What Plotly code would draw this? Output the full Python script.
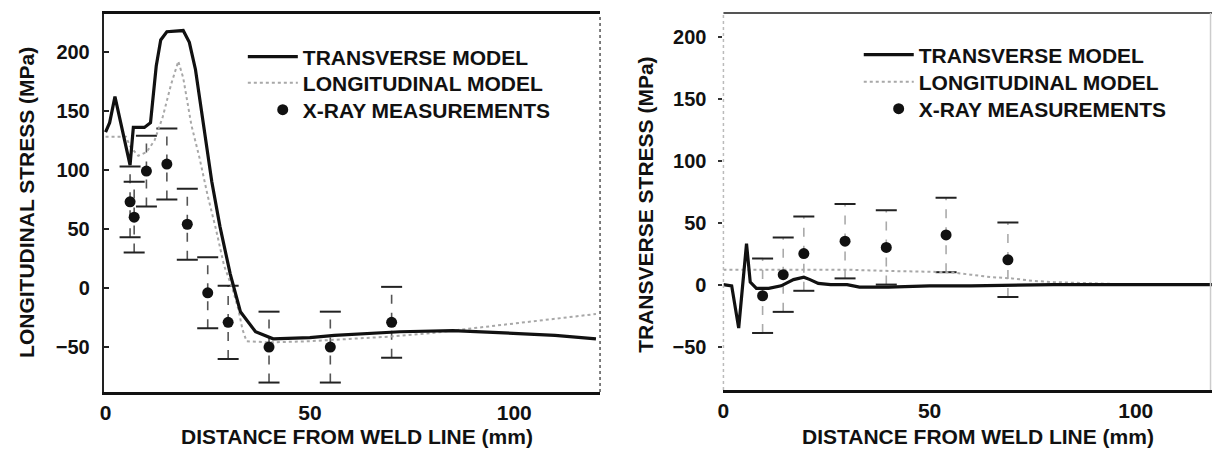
import plotly.graph_objects as go

# ---------------- data: left panel (longitudinal stress) ----------------
lt_x = [0, 1, 2.3, 4, 6.0, 6.8, 9.5, 11, 12.4, 13.5, 15, 19, 20.5, 22, 23, 24.5, 26, 28, 30.5, 33, 36.7, 41, 50, 56, 65, 72, 85, 100, 110, 120]
lt_y = [132, 140, 162, 135, 104, 136, 136, 140, 188, 210, 217, 218, 208, 185, 160, 125, 90, 52, 12, -20, -37, -43, -42, -40, -38, -37, -36, -38, -40, -43]

lg_x = [0, 5, 6, 8, 10, 12, 14, 16, 17.8, 19, 21, 23, 25, 27, 29, 31, 32.5, 33.5, 34.5, 40, 50, 60, 70, 80, 90, 100, 110, 120]
lg_y = [128, 128, 120, 112, 115, 125, 145, 172, 192, 178, 138, 110, 78, 50, 19, 0, -18, -35, -45, -46, -45, -43, -41, -38, -34, -30, -26, -22]

lx_x = [6, 7, 10, 15, 20, 25, 30, 40, 55, 70]
lx_y = [73, 60, 99, 105, 54, -4, -29, -50, -50, -29]
lx_err = [30, 30, 30, 30, 30, 30, 31, 30, 30, 30]

# ---------------- data: right panel (transverse stress) ----------------
rt_x = [0, 2, 3.7, 4.6, 5.6, 6.5, 8, 11, 14, 17, 19.5, 21, 23, 26, 30, 33, 40, 50, 60, 80, 100, 120]
rt_y = [0, -1, -35, 0, 33, 2, -3, -3, -1, 4, 6, 4, 1, 0, 0, -2, -2, -1, -1, 0, 0, 0]

rl_x = [0, 10, 20, 30, 40, 50, 55, 60, 65, 70, 75, 80, 85, 90, 95, 100, 110, 120]
rl_y = [12, 12, 12, 12, 11, 10, 10, 8, 6, 5, 3, 2, 1.5, 1, 0.5, 0, 0, 0]

rx_x = [9.5, 14.5, 19.5, 29.5, 39.5, 54, 69]
rx_y = [-9, 8, 25, 35, 30, 40, 20]
rx_err = [30, 30, 30, 30, 30, 30, 30]

y_ticks = [-50, 0, 50, 100, 150, 200]
x_ticks = [0, 50, 100]

FONT = "Liberation Sans"
W, H = 1212, 450


def err_segments(xs, ys, es):
    sx, sy = [], []
    for x, y, e in zip(xs, ys, es):
        sx += [x, x, None]
        sy += [y - e, y + e, None]
    return sx, sy


def err_caps(xs, ys, es):
    cx, cy = [], []
    for x, y, e in zip(xs, ys, es):
        cx += [x, x]
        cy += [y - e, y + e]
    return cx, cy


fig = go.Figure()


def add_panel(xa, ya, legs, t_x, t_y, l_x, l_y, m_x, m_y, m_e, vcol):
    sx, sy = err_segments(m_x, m_y, m_e)
    fig.add_trace(go.Scatter(x=sx, y=sy, mode="lines", xaxis=xa, yaxis=ya,
                             line=dict(color=vcol, width=1.6, dash="dash"),
                             showlegend=False, hoverinfo="skip"))
    cx, cy = err_caps(m_x, m_y, m_e)
    fig.add_trace(go.Scatter(x=cx, y=cy, mode="markers", xaxis=xa, yaxis=ya,
                             marker=dict(symbol="line-ew-open", size=15, color="#222",
                                         line=dict(color="#222", width=2)),
                             showlegend=False, hoverinfo="skip"))
    fig.add_trace(go.Scatter(x=l_x, y=l_y, mode="lines", xaxis=xa, yaxis=ya,
                             name="LONGITUDINAL MODEL", legend=legs[1],
                             line=dict(color="#a8a8a8", width=2, dash="dot")))
    fig.add_trace(go.Scatter(x=t_x, y=t_y, mode="lines", xaxis=xa, yaxis=ya,
                             name="TRANSVERSE MODEL", legend=legs[0],
                             line=dict(color="#111", width=3.2)))
    fig.add_trace(go.Scatter(x=m_x, y=m_y, mode="markers", xaxis=xa, yaxis=ya,
                             name="X-RAY MEASUREMENTS", legend=legs[2],
                             marker=dict(color="#111", size=11)))


add_panel("x", "y", ["legend", "legend2", "legend3"],
          lt_x, lt_y, lg_x, lg_y, lx_x, lx_y, lx_err, "#555")
add_panel("x2", "y2", ["legend4", "legend5", "legend6"],
          rt_x, rt_y, rl_x, rl_y, rx_x, rx_y, rx_err, "#aaa")

# pixel layout
L_X0, L_X1, L_Y0, L_Y1 = 98, 597, 14, 392
R_X0, R_X1, R_Y0, R_Y1 = 721, 1212, 13, 390

tickfont_y = dict(family=FONT, size=20, color="#111", weight="bold")
tickfont_x = dict(family=FONT, size=21, color="#111", weight="bold")
title_font = dict(family=FONT, size=21, color="#111", weight="bold")
legend_font = dict(family=FONT, size=21, color="#111", weight="bold")


def leg(text_x, row_y, itemwidth=50):
    off = 67 if itemwidth == 50 else 47
    return dict(x=(text_x - off) / W, y=1 - row_y / H, xanchor="left", yanchor="middle",
                bgcolor="rgba(0,0,0,0)", itemwidth=itemwidth, font=legend_font)


fig.update_layout(
    width=W, height=H, margin=dict(l=0, r=0, t=0, b=0),
    paper_bgcolor="white", plot_bgcolor="white",
    xaxis=dict(domain=[L_X0 / W, L_X1 / W], range=[-0.5, 121], tickvals=x_ticks,
               showgrid=False, zeroline=False, showline=True, linecolor="#111",
               linewidth=2.5, mirror=True, ticks="", tickfont=tickfont_x,
               ticklabelstandoff=0),
    yaxis=dict(domain=[1 - L_Y1 / H, 1 - L_Y0 / H], range=[-88, 232], tickvals=y_ticks,
               showgrid=False, zeroline=False, showline=True, linecolor="#222",
               linewidth=1.5, ticks="inside", ticklen=6, tickwidth=1.5, tickcolor="#222",
               tickfont=tickfont_y, ticklabelstandoff=8),
    xaxis2=dict(domain=[R_X0 / W, R_X1 / W], range=[0, 118.5], tickvals=x_ticks,
                anchor="y2", showgrid=False, zeroline=False, showline=True,
                linecolor="#111", linewidth=2.5, ticks="", tickfont=tickfont_x,
                ticklabelstandoff=0),
    yaxis2=dict(domain=[1 - R_Y1 / H, 1 - R_Y0 / H], range=[-85, 219], tickvals=y_ticks,
                anchor="x2", showgrid=False, zeroline=False, showline=False,
                ticks="outside", ticklen=4, tickwidth=2, tickcolor="#333",
                tickfont=tickfont_y, ticklabelstandoff=8),
    legend=leg(305, 57),
    legend2=leg(305, 83),
    legend3=leg(305, 110, 30),
    legend4=leg(924, 55),
    legend5=leg(924, 82),
    legend6=leg(924, 109, 30),
    shapes=[
        dict(type="line", xref="x domain", yref="y domain", x0=1, x1=1, y0=0, y1=1,
             line=dict(color="#555", width=1.5, dash="dot")),
        dict(type="line", xref="x2 domain", yref="y2 domain", x0=0, x1=1, y0=1, y1=1,
             line=dict(color="#555", width=2)),
        dict(type="line", xref="x2 domain", yref="y2 domain", x0=0, x1=0, y0=0, y1=1,
             line=dict(color="#bbb", width=1.5, dash="dot")),
        dict(type="line", xref="x2 domain", yref="y2 domain", x0=0.997, x1=0.997, y0=0, y1=1,
             line=dict(color="#ccc", width=1.5)),
    ],
    annotations=[
        dict(text="LONGITUDINAL STRESS (MPa)", xref="paper", yref="paper",
             x=20 / W, y=1 - 202 / H, xanchor="center", yanchor="middle",
             textangle=-90, showarrow=False, font=title_font),
        dict(text="TRANSVERSE STRESS (MPa)", xref="paper", yref="paper",
             x=643 / W, y=1 - 205 / H, xanchor="center", yanchor="middle",
             textangle=-90, showarrow=False, font=title_font),
        dict(text="DISTANCE FROM WELD LINE (mm)", xref="paper", yref="paper",
             x=353 / W, y=1 - 436 / H, xanchor="center", yanchor="middle",
             showarrow=False, font=title_font),
        dict(text="DISTANCE FROM WELD LINE (mm)", xref="paper", yref="paper",
             x=977 / W, y=1 - 436 / H, xanchor="center", yanchor="middle",
             showarrow=False, font=title_font),
    ],
)

fig.write_html("out.html", config={"displayModeBar": False},
               post_script="document.body.style.margin='0';")
